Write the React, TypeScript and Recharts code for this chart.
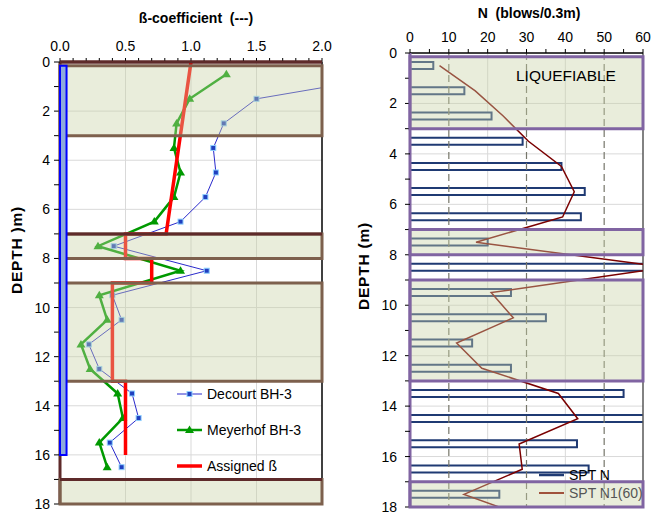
import React from "react";
import {
  ComposedChart,
  Scatter,
  Bar,
  Line,
  XAxis,
  YAxis,
  CartesianGrid,
  ReferenceArea,
  ReferenceLine,
} from "recharts";

// left panel: beta coefficient against depth
const sampleDepths = [0.5, 1.5, 2.5, 3.5, 4.5, 5.5, 6.5, 7.5, 8.5, 9.5, 10.5, 11.5, 12.5, 13.5, 14.5, 15.5, 16.5];
const decourtBeta = [2.6, 1.5, 1.25, 1.17, 1.19, 1.11, 0.92, 0.41, 1.12, 0.4, 0.47, 0.22, 0.3, 0.55, 0.6, 0.38, 0.47];
const meyerhofBeta = [1.27, 0.99, 0.89, 0.87, 0.92, 0.87, 0.72, 0.29, 0.92, 0.3, 0.36, 0.16, 0.23, 0.44, 0.48, 0.3, 0.36];
const assignedDepths = [0, 7, 7, 8, 8, 9, 9, 13, 13, 16];
const assignedBeta = [1.0, 0.81, 0.5, 0.5, 0.7, 0.7, 0.4, 0.4, 0.5, 0.5];

// pile / borehole column
const boreholeTop = 0.15;
const boreholeBottom = 16;
const boreholeWidth = 0.05;

// liquefiable layers
const layerTops = [0.15, 7, 9, 17];
const layerBottoms = [3, 8, 13, 18];

// right panel: SPT blow counts
const sptDepths = [0.5, 1.5, 2.5, 3.5, 4.5, 5.5, 6.5, 7.5, 8.5, 9.5, 10.5, 11.5, 12.5, 13.5, 14.5, 15.5, 16.5, 17.5];
const sptN = [6, 14, 21, 29, 39, 45, 44, 20, 70, 26, 35, 16, 26, 55, 70, 43, 46, 23];
const n160Depths = [0.5, 1.5, 2.5, 3.5, 4.5, 5.5, 6.5, 7.5, 8.5, 9.5, 10.5, 11.5, 12.5, 13.5, 14.5, 15.5, 16.5, 17.5, 18.5];
const sptN160 = [7.6, 16.8, 24, 30.5, 39, 42.3, 39.3, 17, 66, 20.9, 26.6, 12, 18.5, 38.2, 43.2, 28.1, 28.9, 13.9, 32];

const betaTicks = [0, 0.1, 0.2, 0.3, 0.4, 0.5, 0.6, 0.7, 0.8, 0.9, 1.0, 1.1, 1.2, 1.3, 1.4, 1.5, 1.6, 1.7, 1.8, 1.9, 2.0];
const nTicks = [0, 5, 10, 15, 20, 25, 30, 35, 40, 45, 50, 55, 60];
const depthTicks = [0, 1, 2, 3, 4, 5, 6, 7, 8, 9, 10, 11, 12, 13, 14, 15, 16, 17, 18];
const depthGrid = [2, 4, 6, 8, 10, 12, 14, 16];

const decourtRows = sampleDepths.map((d, i) => ({ depth: d, beta: decourtBeta[i] }));
const meyerhofRows = sampleDepths.map((d, i) => ({ depth: d, beta: meyerhofBeta[i] }));
const assignedRows = assignedDepths.map((d, i) => ({ depth: d, beta: assignedBeta[i] }));
const sptRows = sptDepths.map((d, i) => ({ depth: d, n: sptN[i] }));
const n160Rows = n160Depths.map((d, i) => ({ depth: d, n1: sptN160[i] }));

const FONT = "'Liberation Sans', Arial, sans-serif";
const OVERLAY = "#c8d2a5";
const tickStyle = { fill: "#000", fontSize: 14, fontFamily: FONT };

const square = (p: any) => (
  <rect x={p.cx - 2.5} y={p.cy - 2.5} width={5} height={5} fill="#1f3fbf" stroke="#8fd0ff" strokeWidth={1} />
);
const triangle = (p: any) => (
  <path d={`M${p.cx},${p.cy - 4.5} L${p.cx + 4.5},${p.cy + 3} L${p.cx - 4.5},${p.cy + 3} Z`} fill="#009900" />
);
const noMark = () => <g />;

function BetaChart() {
  return (
    <ComposedChart width={340} height={516} margin={{ top: 32, right: 18, bottom: 12, left: 10 }}>
      <CartesianGrid stroke="#d9d9d9" verticalValues={[0.5, 1, 1.5]} horizontalValues={depthGrid} />
      <XAxis
        type="number"
        dataKey="beta"
        orientation="top"
        domain={[0, 2]}
        allowDataOverflow
        ticks={betaTicks}
        interval={0}
        height={30}
        tickSize={4}
        tickMargin={7}
        tick={tickStyle}
        tickFormatter={(v: number) => (Math.abs(v * 2 - Math.round(v * 2)) < 1e-6 ? v.toFixed(1) : "")}
        axisLine={{ stroke: "#5e2a2a", strokeWidth: 3 }}
        tickLine={{ stroke: "#000" }}
      />
      <YAxis
        type="number"
        dataKey="depth"
        reversed
        domain={[0, 18]}
        allowDataOverflow
        ticks={depthTicks}
        interval={0}
        width={50}
        tickSize={6}
        tickMargin={4}
        tick={tickStyle}
        tickFormatter={(v: number) => (v % 2 === 0 ? String(v) : "")}
        axisLine={{ stroke: "#5e2a2a", strokeWidth: 3 }}
        tickLine={{ stroke: "#000" }}
      />
      <ReferenceLine x={2} stroke="#000" strokeWidth={1.5} />
      <Scatter
        data={decourtRows}
        line={{ stroke: "#2a2acc", strokeWidth: 1 }}
        lineType="joint"
        shape={square}
        isAnimationActive={false}
      />
      <Scatter
        data={meyerhofRows}
        line={{ stroke: "#009900", strokeWidth: 2.5 }}
        lineType="joint"
        shape={triangle}
        isAnimationActive={false}
      />
      <Scatter
        data={assignedRows}
        line={{ stroke: "#ff0000", strokeWidth: 3.5 }}
        lineType="joint"
        shape={noMark}
        isAnimationActive={false}
      />
      {layerTops.map((t, i) => (
        <ReferenceArea
          key={`l${i}`}
          x1={0}
          x2={2}
          y1={t}
          y2={layerBottoms[i]}
          fill={OVERLAY}
          fillOpacity={0.4}
          stroke="#7d604d"
          strokeWidth={3}
          zIndex={700}
        />
      ))}
      {[0, 7, 17].map((t) => (
        <ReferenceLine key={`t${t}`} y={t} stroke="#5e2a2a" strokeWidth={3} zIndex={710} />
      ))}
      <ReferenceArea
        x1={0}
        x2={boreholeWidth}
        y1={boreholeTop}
        y2={boreholeBottom}
        fill="#8eaadb"
        fillOpacity={1}
        stroke="#0000ff"
        strokeWidth={2}
        zIndex={720}
      />
    </ComposedChart>
  );
}

function SptChart() {
  return (
    <ComposedChart layout="vertical" width={322} height={516} data={sptRows} margin={{ top: 23, right: 9, bottom: 9, left: 20 }}>
      <CartesianGrid stroke="#d9d9d9" verticalValues={[20, 40]} horizontalValues={depthGrid} />
      <XAxis
        type="number"
        orientation="top"
        domain={[0, 60]}
        allowDataOverflow
        ticks={nTicks}
        interval={0}
        height={30}
        tickSize={4}
        tickMargin={7}
        tick={tickStyle}
        tickFormatter={(v: number) => (v % 10 === 0 ? String(v) : "")}
        axisLine={{ stroke: "#000", strokeWidth: 1.5 }}
        tickLine={{ stroke: "#000" }}
      />
      <YAxis
        type="number"
        dataKey="depth"
        domain={[0, 18]}
        allowDataOverflow
        ticks={depthTicks}
        interval={0}
        width={60}
        tickSize={5}
        tickMargin={8}
        tick={tickStyle}
        tickFormatter={(v: number) => (v % 2 === 0 ? String(v) : "")}
        axisLine={{ stroke: "#8064a2", strokeWidth: 3 }}
        tickLine={{ stroke: "#000" }}
      />
      {[10, 30, 50].map((v) => (
        <ReferenceLine key={`d${v}`} x={v} stroke="#76766a" strokeWidth={1.2} strokeDasharray="7 4" />
      ))}
      <ReferenceLine x={60} stroke="#595959" strokeWidth={1.5} />
      <Bar dataKey="n" barSize={7} fill="#fff" stroke="#1f3a73" strokeWidth={2} isAnimationActive={false} />
      <Line
        data={n160Rows}
        dataKey="n1"
        stroke="#7a0000"
        strokeWidth={1.5}
        dot={false}
        isAnimationActive={false}
      />
      {layerTops.map((t, i) => (
        <ReferenceArea
          key={`r${i}`}
          x1={0}
          x2={60}
          y1={t}
          y2={layerBottoms[i]}
          fill={OVERLAY}
          fillOpacity={0.4}
          stroke="#8064a2"
          strokeWidth={3}
          zIndex={700}
        />
      ))}
    </ComposedChart>
  );
}

const legendLine = (color: string, width: number, mark?: "square" | "triangle") => (
  <svg width={28} height={12} style={{ display: "block" }}>
    <line x1={1} y1={6} x2={26} y2={6} stroke={color} strokeWidth={width} />
    {mark === "square" && <rect x={11} y={3.5} width={5} height={5} fill="#1f3fbf" stroke="#8fd0ff" strokeWidth={1} />}
    {mark === "triangle" && <path d="M13.5,1.5 L18,9 L9,9 Z" fill="#009900" />}
  </svg>
);

export default function App() {
  const abs = (left: number, top: number): React.CSSProperties => ({ position: "absolute", left, top });
  const legendRow = { display: "flex", alignItems: "center", gap: 3, fontSize: 14, height: 18 } as React.CSSProperties;
  const depthLabel: React.CSSProperties = {
    width: 200,
    textAlign: "center",
    fontWeight: "bold",
    fontSize: 15.5,
    letterSpacing: 0.8,
    transform: "rotate(-90deg)",
  };
  return (
    <div style={{ position: "absolute", left: 0, top: 0, width: 652, height: 516, background: "#fff", fontFamily: FONT, color: "#000" }}>
      <div style={abs(0, 0)}>
        <BetaChart />
      </div>
      <div style={abs(330, 0)}>
        <SptChart />
      </div>

      <div style={{ ...abs(96, 10), width: 200, textAlign: "center", fontWeight: "bold", fontSize: 14 }}>
        ß-coefficient&nbsp;&nbsp;(---)
      </div>
      <div style={{ ...abs(429, 5), width: 200, textAlign: "center", fontWeight: "bold", fontSize: 14 }}>
        N&nbsp;&nbsp;(blows/0.3m)
      </div>
      <div style={{ ...abs(-83, 241), ...depthLabel }}>DEPTH )m)</div>
      <div style={{ ...abs(264, 257), ...depthLabel }}>DEPTH (m)</div>
      <div style={{ ...abs(516, 67), fontSize: 15.5 }}>LIQUEFIABLE</div>

      <div style={abs(176, 385)}>
        <div style={legendRow}>
          {legendLine("#2a2acc", 1, "square")}
          <span>Decourt BH-3</span>
        </div>
      </div>
      <div style={abs(176, 421)}>
        <div style={legendRow}>
          {legendLine("#009900", 2.5, "triangle")}
          <span>Meyerhof BH-3</span>
        </div>
      </div>
      <div style={abs(176, 457)}>
        <div style={legendRow}>
          {legendLine("#ff0000", 3.5)}
          <span>Assigned ß</span>
        </div>
      </div>

      <div style={abs(538, 466)}>
        <div style={legendRow}>
          {legendLine("#1f3a73", 2.5)}
          <span>SPT N</span>
        </div>
      </div>
      <div style={abs(538, 484)}>
        <div style={{ ...legendRow, color: "#555" }}>
          {legendLine("#a0523c", 2)}
          <span>SPT N1(60)</span>
        </div>
      </div>
    </div>
  );
}
